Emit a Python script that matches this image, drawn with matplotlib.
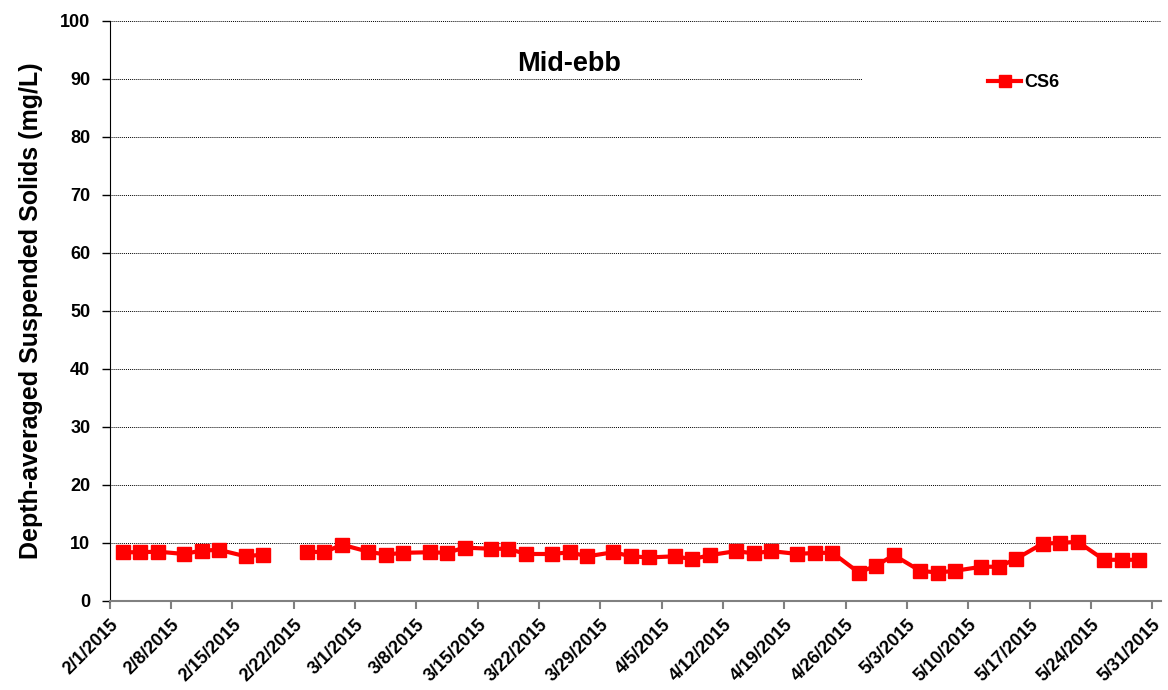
import pandas as pd
import numpy as np
import matplotlib
matplotlib.use("Agg")
import matplotlib.pyplot as plt
from matplotlib.patches import Rectangle

plt.rcParams['font.family'] = ['Liberation Sans', 'DejaVu Sans']

# sampling dates (Mon/Wed/Fri); 2/20 has no value -> break in the line
dates = ["2015-02-02", "2015-02-04", "2015-02-06", "2015-02-09", "2015-02-11",
         "2015-02-13", "2015-02-16", "2015-02-18", "2015-02-20",
         "2015-02-23", "2015-02-25", "2015-02-27", "2015-03-02", "2015-03-04",
         "2015-03-06", "2015-03-09", "2015-03-11", "2015-03-13", "2015-03-16",
         "2015-03-18", "2015-03-20", "2015-03-23", "2015-03-25", "2015-03-27",
         "2015-03-30", "2015-04-01", "2015-04-03", "2015-04-06", "2015-04-08",
         "2015-04-10", "2015-04-13", "2015-04-15", "2015-04-17", "2015-04-20",
         "2015-04-22", "2015-04-24", "2015-04-27", "2015-04-29", "2015-05-01",
         "2015-05-04", "2015-05-06", "2015-05-08", "2015-05-11", "2015-05-13",
         "2015-05-15", "2015-05-18", "2015-05-20", "2015-05-22", "2015-05-25",
         "2015-05-27", "2015-05-29"]
cs6 = [8.4, 8.4, 8.5, 8.1, 8.7, 8.8, 7.7, 8.0, np.nan,
       8.5, 8.4, 9.7, 8.5, 8.0, 8.3, 8.4, 8.3, 9.2,
       9.0, 9.0, 8.1, 8.1, 8.4, 7.7, 8.4, 7.7, 7.5, 7.7,
       7.2, 7.9, 8.6, 8.2, 8.6, 8.1, 8.3, 8.3, 4.9, 6.1,
       7.9, 5.2, 4.9, 5.2, 5.9, 5.9, 7.3, 9.9, 10.0, 10.2,
       7.1, 7.1, 7.1]

# Excel draws each day's point in the middle of the day
x = pd.to_datetime(dates) + pd.Timedelta(hours=12)

fig = plt.figure(figsize=(11.68, 6.9), dpi=100)
ax = fig.add_axes([0.094, 0.129, 0.9, 0.841])

ax.plot(x, cs6, '-s', color='#ff0000', lw=3, ms=9.5, label="CS6", zorder=3)

ax.set_ylim(0, 100)
ax.set_yticks(range(0, 101, 10))
ax.set_xlim(pd.Timestamp("2015-02-01"), pd.Timestamp("2015-06-01"))
ticks = pd.date_range("2015-02-01", "2015-05-31", freq="7D")
ax.set_xticks(ticks)
ax.set_xticklabels([f"{d.month}/{d.day}/{d.year}" for d in ticks],
                   rotation=45, ha='right', rotation_mode='anchor',
                   fontsize=13, fontweight='bold')
for lbl in ax.get_yticklabels():
    lbl.set_fontsize(13)
    lbl.set_fontweight('bold')

ax.grid(axis='y', color='black', linestyle=(0, (1, 1)), lw=0.7)
ax.set_axisbelow(True)
ax.spines['top'].set_visible(False)
ax.spines['right'].set_visible(False)
ax.spines['bottom'].set_color('#808080')
ax.spines['bottom'].set_linewidth(1.5)
ax.tick_params(axis='x', length=6, color='#808080', width=1.5, pad=5)
ax.tick_params(axis='y', length=6, width=1, pad=8)

ax.set_ylabel("Depth-averaged Suspended Solids (mg/L)", fontsize=18,
              fontweight='bold', labelpad=12)

# white box behind the legend area hides part of the 90 gridline
ax.add_patch(Rectangle((0.7155, 0.87), 0.3, 0.05, transform=ax.transAxes,
                       facecolor='white', edgecolor='none', zorder=1,
                       clip_on=False))

ax.text(0.437, 0.925, "Mid-ebb", transform=ax.transAxes, ha='center',
        va='center', fontsize=19.5, fontweight='bold')

ax.legend(loc='center left', bbox_to_anchor=(0.82, 0.893), frameon=False,
          prop={'weight': 'bold', 'size': 13}, handlelength=1.85,
          handletextpad=0.15, markerscale=0.9)

fig.savefig("out.png", dpi=100)
